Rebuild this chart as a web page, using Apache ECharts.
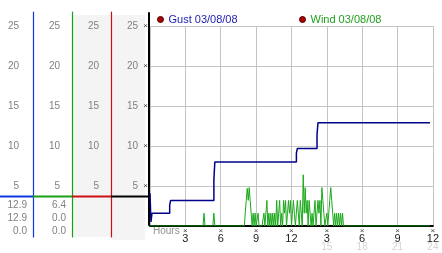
<!DOCTYPE html>
<html><head><meta charset="utf-8">
<script src="https://cdn.jsdelivr.net/npm/echarts@6/dist/echarts.min.js"></script>
<style>html,body{margin:0;padding:0;background:#fff}#c{width:442px;height:253px}</style>
</head><body><div id="c"></div>
<script>
// ---- data ----
const yTicks = [5, 10, 15, 20, 25];
const xTicks = [3, 6, 9, 12, 15, 18, 21, 24];
const xLabels = ['3', '6', '9', '12', '3', '6', '9', '12'];
const xLabels2 = ['', '', '', '', '15', '18', '21', '24'];
const gustName = 'Gust 03/08/08';
const windName = 'Wind 03/08/08';
// gust: [hour, value]
const gust = [[0, 4.1], [0.08, 0.5], [0.17, 1.6], [1.67, 2.6], [1.75, 3.2], [5.42, 5.8], [5.5, 8.0],
  [12.42, 9.1], [12.5, 9.7], [14.17, 11.4], [14.25, 12.9], [23.75, 12.9]];
// wind: early points [hour, value]
const windEarly = [[0, 0], [4.5, 0], [4.58, 1.6], [4.67, 0], [5.33, 0], [5.42, 1.6], [5.5, 0]];
// wind burst: one value every 5 minutes from windBurstStart
const windBurstStart = 8.0;
const windBurst = [0, 1.6, 3.2, 4.7, 3.2, 4.8, 3.2, 1.6, 0, 1.6, 0, 1.6, 0, 0, 1.6, 0, 0, 0, 0, 0,
  1.6, 0, 1.6, 3.2, 0, 1.6, 0, 1.6, 0, 1.6, 0, 1.6, 0, 3.2, 0, 1.6, 3.2, 0, 1.6, 0,
  3.2, 1.6, 3.2, 0, 1.6, 3.2, 1.6, 3.2, 0, 1.6, 3.2, 1.6, 0, 1.6, 3.2, 1.6, 0, 3.2, 1.6, 0,
  6.4, 1.6, 4.8, 1.6, 3.2, 0, 3.2, 1.6, 0, 1.6, 0, 1.6, 3.2, 0, 1.6, 3.2, 1.6, 3.2, 0, 4.8,
  3.2, 1.6, 0, 0, 1.6, 0, 0, 3.2, 4.8, 3.2, 1.6, 0, 1.6, 0, 1.6, 0, 1.6, 0, 1.6, 0, 1.6, 0];
const windLate = [[16.67, 0], [23.75, 0]];
const statsGust = ['12.9', '12.9', '0.0'];
const statsWind = ['6.4', '0.0', '0.0'];

// ---- build ----
const wind = windEarly.concat(windBurst.map((v, i) => [windBurstStart + i / 12, v]), windLate);
const FONT = 'Liberation Sans';
const colColors = ['#1038e0', '#18a018', '#d01010', '#000000'];
const cols = [
  { left: 0, width: 33, top: 12, bottom: 237, margin: 14, lw: 1.2 },
  { left: 0, width: 72, top: 12, bottom: 237, margin: 12, lw: 1.2 },
  { left: 0, width: 111, top: 12, bottom: 237, margin: 12, lw: 1.2 },
  { left: 0, width: 149, top: 13, bottom: 225, margin: 11, lw: 2 }
];
const zeroPx = 226, pxPerUnit = 8;

const grids = [{ left: 150, top: 26, width: 288, height: 200 }];
const xAxes = [{
  gridIndex: 0, type: 'value', min: 0, max: 24, interval: 3,
  axisLine: { lineStyle: { color: '#000', width: 2 } },
  axisTick: { show: false },
  splitLine: { lineStyle: { color: '#c4c4c4', width: 1 } },
  axisLabel: {
    margin: 1,
    formatter: v => {
      const i = xTicks.indexOf(v);
      if (i < 0) return '';
      let s = '{m|×}\n{v|' + xLabels[i] + '}';
      if (xLabels2[i]) s += '\n{s|' + xLabels2[i] + '}';
      return s;
    },
    rich: {
      m: { fontSize: 8, color: '#444', lineHeight: 7, fontFamily: FONT, align: 'center' },
      v: { fontSize: 11, color: '#222', lineHeight: 9, fontFamily: FONT, align: 'center' },
      s: { fontSize: 10, color: '#d4d4d4', lineHeight: 9, fontFamily: FONT, align: 'center' }
    }
  }
}];
const yAxes = [{
  gridIndex: 0, type: 'value', min: 0, max: 25, interval: 5,
  axisLine: { show: false }, axisTick: { show: false },
  splitLine: { lineStyle: { color: '#c4c4c4', width: 1 } },
  axisLabel: { margin: 2, fontSize: 8, color: '#444', fontFamily: FONT, formatter: v => v > 0 ? '×' : '' }
}];
cols.forEach((c, k) => {
  grids.push({ left: c.left, width: c.width, top: c.top, height: c.bottom - c.top });
  xAxes.push({ gridIndex: k + 1, type: 'value', show: false, min: 0, max: 1 });
  yAxes.push({
    gridIndex: k + 1, type: 'value', position: 'right',
    max: (zeroPx - c.top) / pxPerUnit, min: (zeroPx - c.bottom) / pxPerUnit,
    axisLine: { show: true, onZero: false, lineStyle: { color: colColors[k], width: c.lw } },
    axisTick: { show: false }, splitLine: { show: false },
    axisLabel: { inside: true, margin: c.margin, fontSize: 10, color: '#808080', fontFamily: FONT, customValues: yTicks }
  });
});

const graphics = [
  { type: 'rect', z: -100, shape: { x: 73, y: 15, width: 38, height: 222 }, style: { fill: '#f4f4f4' } },
  { type: 'rect', z: -100, shape: { x: 112, y: 15, width: 33, height: 225 }, style: { fill: '#f4f4f4' } },
  { type: 'text', left: 153, top: 226, style: { text: 'Hours', fill: '#909090', font: '10px ' + FONT } }
];
const sepX = [0, 33, 72, 111, 150];
for (let k = 0; k < 4; k++) {
  graphics.push({ type: 'line', z: 50, shape: { x1: sepX[k], y1: 196.5, x2: sepX[k + 1], y2: 196.5 }, style: { stroke: colColors[k], lineWidth: 2 } });
}
[statsGust, statsWind].forEach((arr, k) => {
  arr.forEach((t, j) => {
    graphics.push({ type: 'text', x: k === 0 ? 27 : 66, y: 205 + j * 13, style: { text: t, fill: '#808080', font: '10px ' + FONT, textAlign: 'right', textVerticalAlign: 'middle' } });
  });
});

const chart = echarts.init(document.getElementById('c'), null, { renderer: 'canvas' });
chart.setOption({
  animation: false,
  backgroundColor: '#fff',
  textStyle: { fontFamily: FONT },
  legend: [
    { left: 157, top: 14, padding: 0, itemWidth: 6, itemHeight: 6, icon: 'circle',
      data: [{ name: gustName, itemStyle: { color: '#b00000', borderColor: '#500000', borderWidth: 1 }, textStyle: { color: '#1a1ab0' } }],
      textStyle: { fontSize: 11, fontFamily: FONT } },
    { left: 299, top: 14, padding: 0, itemWidth: 6, itemHeight: 6, icon: 'circle',
      data: [{ name: windName, itemStyle: { color: '#b00000', borderColor: '#500000', borderWidth: 1 }, textStyle: { color: '#20a020' } }],
      textStyle: { fontSize: 11, fontFamily: FONT } }
  ],
  grid: grids, xAxis: xAxes, yAxis: yAxes,
  graphic: graphics,
  series: [
    { name: windName, type: 'line', xAxisIndex: 0, yAxisIndex: 0, data: wind, showSymbol: false,
      lineStyle: { color: '#1aa81a', width: 1 }, itemStyle: { color: '#1aa81a' }, z: 3 },
    { name: gustName, type: 'line', step: 'end', xAxisIndex: 0, yAxisIndex: 0, data: gust, showSymbol: false,
      lineStyle: { color: '#000088', width: 1.5 }, itemStyle: { color: '#000088' }, z: 4 }
  ]
});
</script></body></html>
